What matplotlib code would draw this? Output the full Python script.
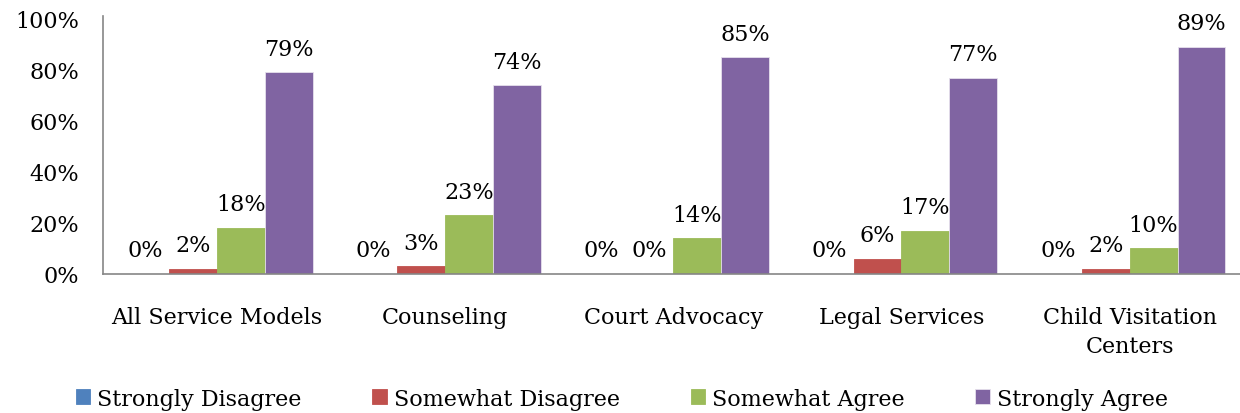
import numpy as np
import matplotlib
matplotlib.use('Agg')
import matplotlib.pyplot as plt

plt.rcParams['font.family'] = ['DejaVu Serif']

# data
categories = ['All Service Models', 'Counseling', 'Court Advocacy',
              'Legal Services', 'Child Visitation\nCenters']
series = ['Strongly Disagree', 'Somewhat Disagree', 'Somewhat Agree', 'Strongly Agree']
strongly_disagree = [0, 0, 0, 0, 0]
somewhat_disagree = [2, 3, 0, 6, 2]
somewhat_agree = [18, 23, 14, 17, 10]
strongly_agree = [79, 74, 85, 77, 89]
colors = ['#4F81BD', '#C0504D', '#9BBB59', '#8064A2']
yticks = [0, 20, 40, 60, 80, 100]

values = [strongly_disagree, somewhat_disagree, somewhat_agree, strongly_agree]
fs = 16

fig = plt.figure(figsize=(12.4, 4.14), dpi=100)
ax = fig.add_axes([0.083, 0.336, 0.92, 0.616])

x = np.arange(len(categories))
w = 0.21
for i, (name, vals, c) in enumerate(zip(series, values, colors)):
    pos = x + (i - 1.5) * w
    edge = '#E6E0EC' if i == 3 else c
    ax.bar(pos, vals, width=w, color=c, label=name, edgecolor=edge, linewidth=0.6)
    for p, v in zip(pos, vals):
        ax.annotate('%d%%' % v, (p, v), xytext=(0, 9), textcoords='offset points',
                    ha='center', va='bottom', fontsize=fs)

ax.set_xlim(-0.5, len(categories) - 0.5)
ax.set_ylim(0, 100)
ax.set_yticks(yticks)
ax.set_yticklabels(['%d%%' % t for t in yticks], fontsize=fs)
ax.set_xticks(x)
ax.set_xticklabels(categories, fontsize=fs, linespacing=1.45, va='top')
ax.tick_params(axis='y', length=0, pad=17)
ax.tick_params(axis='x', length=0, pad=23)
for s in ['top', 'right']:
    ax.spines[s].set_visible(False)
for s in ['left', 'bottom']:
    ax.spines[s].set_color('#868686')
    ax.spines[s].set_linewidth(1.2)
ax.spines['left'].set_bounds(0, 101)

fig.legend(loc='lower left', bbox_to_anchor=(0.045, -0.04), ncol=4, frameon=False,
           fontsize=fs, handlelength=0.65, handleheight=0.65, handletextpad=0.3,
           columnspacing=3.2)

fig.savefig('out.png', dpi=100)
